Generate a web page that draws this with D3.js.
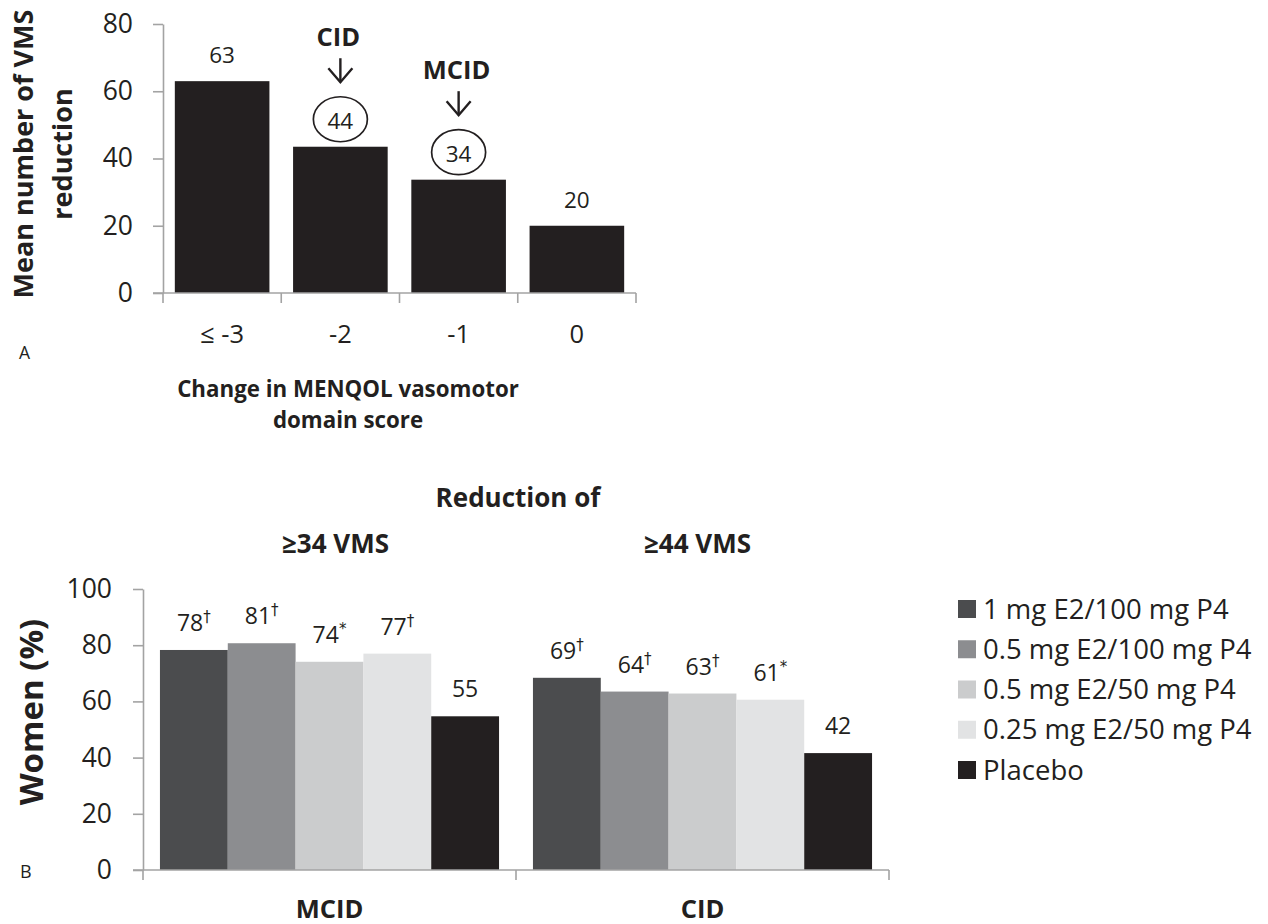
<!DOCTYPE html>
<html>
<head>
<meta charset="utf-8">
<script src="https://cdn.jsdelivr.net/npm/d3@7"></script>
<style>
  html, body { margin: 0; padding: 0; background: #fff; }
  svg { display: block; }
  text { font-family: "Open Sans", sans-serif; fill: #231f20; }
</style>
</head>
<body>
<svg id="chart" width="1268" height="924"></svg>
<script>
// ---------- Data: panel A ----------
const catsA = ["≤ -3", "-2", "-1", "0"];
const valuesA = [63, 43.5, 33.7, 20];
const labelsA = ["63", "44", "34", "20"];
const circledA = ["-2", "-1"];
const calloutTextA = ["CID", "MCID"];
const yTicksA = [0, 20, 40, 60, 80];
const titleA = ["Change in MENQOL vasomotor", "domain score"];
const yTitleA = ["Mean number of VMS", "reduction"];

// ---------- Data: panel B ----------
const groupsB = ["MCID", "CID"];
const groupHeadsB = ["≥34 VMS", "≥44 VMS"];
const seriesB = ["1 mg E2/100 mg P4", "0.5 mg E2/100 mg P4", "0.5 mg E2/50 mg P4", "0.25 mg E2/50 mg P4", "Placebo"];
const valuesMCID = [78.3, 80.7, 74.1, 77.0, 54.7];
const valuesCID = [68.4, 63.5, 62.8, 60.6, 41.6];
const labelsMCID = ["78", "81", "74", "77", "55"];
const labelsCID = ["69", "64", "63", "61", "42"];
const marksMCID = ["†", "†", "*", "†", ""];
const marksCID = ["†", "†", "†", "*", ""];
const yTicksB = [0, 20, 40, 60, 80, 100];
const titleB = "Reduction of";
const yTitleB = "Women (%)";

// ---------- Styles ----------
const palette = ["#4b4c4e", "#8c8d90", "#cbcccd", "#e2e3e4", "#231f20"];
const barA = "#231f20";
const axisCol = "#a3a3a3";
const ink = "#231f20";

const svg = d3.select("#chart");

// ================= Panel A =================
const xA = d3.scaleBand().domain(catsA).range([163, 636]).paddingInner(0.2).paddingOuter(0.1);
const yA = d3.scaleLinear().domain([0, 80]).range([293, 24]);
const gA = svg.append("g");

gA.selectAll("rect.barA").data(catsA).join("rect")
  .attr("class", "barA")
  .attr("x", d => xA(d))
  .attr("width", xA.bandwidth())
  .attr("y", (d, i) => yA(valuesA[i]))
  .attr("height", (d, i) => yA(0) - yA(valuesA[i]))
  .attr("fill", barA);

// y axis
const yAxA = gA.append("g").attr("transform", "translate(163,0)")
  .call(d3.axisLeft(yA).tickValues(yTicksA).tickSize(10).tickSizeOuter(0).tickPadding(20));
yAxA.select(".domain").attr("stroke", axisCol).attr("stroke-width", 1.6);
yAxA.selectAll(".tick line").attr("stroke", axisCol).attr("stroke-width", 1.6);
yAxA.selectAll(".tick text").attr("font-size", 26.5).attr("font-family", "Open Sans").attr("fill", ink);

// x axis
const bandsA = d3.range(catsA.length + 1).map(i => xA.range()[0] + i * xA.step());
gA.append("line").attr("x1", 153).attr("x2", xA.range()[1]).attr("y1", yA(0)).attr("y2", yA(0))
  .attr("stroke", axisCol).attr("stroke-width", 1.6);
gA.selectAll("line.bA").data(bandsA).join("line").attr("class", "bA")
  .attr("x1", d => d).attr("x2", d => d).attr("y1", yA(0)).attr("y2", yA(0) + 10)
  .attr("stroke", axisCol).attr("stroke-width", 1.6);
gA.selectAll("text.catA").data(catsA).join("text").attr("class", "catA")
  .attr("x", d => xA(d) + xA.bandwidth() / 2).attr("y", yA(0) + 50)
  .attr("text-anchor", "middle").attr("font-size", 25.5).text(d => d);

// value labels
gA.selectAll("text.valA").data(catsA).join("text").attr("class", "valA")
  .attr("x", d => xA(d) + xA.bandwidth() / 2)
  .attr("y", (d, i) => yA(valuesA[i]) - 18)
  .attr("text-anchor", "middle").attr("font-size", 22.5).text((d, i) => labelsA[i]);

// circled labels with callouts
circledA.forEach((c, k) => {
  const i = catsA.indexOf(c);
  const cx = xA(c) + xA.bandwidth() / 2;
  const cy = yA(valuesA[i]) - 27.5;
  gA.append("ellipse").attr("cx", cx).attr("cy", cy).attr("rx", 27).attr("ry", 22.5)
    .attr("fill", "none").attr("stroke", ink).attr("stroke-width", 1.7);
  const top = cy - 61, bot = cy - 37;
  gA.append("line").attr("x1", cx).attr("x2", cx).attr("y1", top).attr("y2", bot)
    .attr("stroke", ink).attr("stroke-width", 2.4);
  gA.append("path").attr("d", `M${cx - 12},${bot - 14} L${cx},${bot} L${cx + 12},${bot - 14}`)
    .attr("fill", "none").attr("stroke", ink).attr("stroke-width", 2.4);
  gA.append("text").attr("x", cx - 2).attr("y", cy - 73).attr("text-anchor", "middle")
    .attr("font-size", 25.5).attr("font-weight", 700).text(calloutTextA[k]);
});

// y title A
const yTA = gA.append("text").attr("transform", "translate(33,154) rotate(-90)")
  .attr("text-anchor", "middle").attr("font-size", 27).attr("font-weight", 700);
yTA.append("tspan").attr("x", 0).attr("y", 0).text(yTitleA[0]);
yTA.append("tspan").attr("x", 0).attr("y", 39).text(yTitleA[1]);

// panel letter A
svg.append("text").attr("x", 19).attr("y", 359).attr("font-family", "Liberation Sans, Arial, sans-serif")
  .attr("font-size", 17.5).text("A");

// title A
gA.selectAll("text.tA").data(titleA).join("text").attr("class", "tA")
  .attr("x", 348).attr("y", (d, i) => 397 + i * 31)
  .attr("text-anchor", "middle").attr("font-size", 22.3).attr("font-weight", 700).text(d => d);

// ================= Panel B =================
const x0 = d3.scaleBand().domain(groupsB).range([143, 889]);
const x1 = d3.scaleBand().domain(seriesB).range([0, x0.bandwidth()]).paddingInner(0).paddingOuter(0.25);
const yB = d3.scaleLinear().domain([0, 100]).range([870, 589]);
const gB = svg.append("g");

const rowsB = [
  { g: groupsB[0], vals: valuesMCID, labs: labelsMCID, marks: marksMCID },
  { g: groupsB[1], vals: valuesCID, labs: labelsCID, marks: marksCID }
];

rowsB.forEach(r => {
  const grp = gB.append("g").attr("transform", `translate(${x0(r.g)},0)`);
  grp.selectAll("rect").data(seriesB).join("rect")
    .attr("x", d => x1(d)).attr("width", x1.bandwidth())
    .attr("y", (d, i) => yB(r.vals[i]))
    .attr("height", (d, i) => yB(0) - yB(r.vals[i]))
    .attr("fill", (d, i) => palette[i]);
  const t = grp.selectAll("text.valB").data(seriesB).join("text").attr("class", "valB")
    .attr("x", d => x1(d) + x1.bandwidth() / 2)
    .attr("y", (d, i) => yB(r.vals[i]) - 19)
    .attr("text-anchor", "middle").attr("font-size", 23);
  t.append("tspan").text((d, i) => r.labs[i]);
  t.append("tspan").attr("font-size", 15).attr("dy", -9)
    .attr("font-family", "DejaVu Sans, sans-serif").style("fill", ink).text((d, i) => r.marks[i]);
});

// y axis B
const yAxB = gB.append("g").attr("transform", "translate(143,0)")
  .call(d3.axisLeft(yB).tickValues(yTicksB).tickSize(10).tickSizeOuter(0).tickPadding(21));
yAxB.select(".domain").attr("stroke", axisCol).attr("stroke-width", 1.6);
yAxB.selectAll(".tick line").attr("stroke", axisCol).attr("stroke-width", 1.6);
yAxB.selectAll(".tick text").attr("font-size", 26.5).attr("font-family", "Open Sans").attr("fill", ink);

// x axis B
const bandsB = d3.range(groupsB.length + 1).map(i => x0.range()[0] + i * x0.step());
gB.append("line").attr("x1", 133).attr("x2", x0.range()[1]).attr("y1", yB(0)).attr("y2", yB(0))
  .attr("stroke", axisCol).attr("stroke-width", 1.6);
gB.selectAll("line.bB").data(bandsB).join("line").attr("class", "bB")
  .attr("x1", d => d).attr("x2", d => d).attr("y1", yB(0)).attr("y2", yB(0) + 10)
  .attr("stroke", axisCol).attr("stroke-width", 1.6);
gB.selectAll("text.catB").data(groupsB).join("text").attr("class", "catB")
  .attr("x", d => x0(d) + x0.bandwidth() / 2).attr("y", 918)
  .attr("text-anchor", "middle").attr("font-size", 25.5).attr("font-weight", 700).text(d => d);

// group headers
gB.selectAll("text.hB").data(groupHeadsB).join("text").attr("class", "hB")
  .attr("x", (d, i) => x0(groupsB[i]) + x0.bandwidth() / 2 + (i === 0 ? 6 : -5)).attr("y", 553)
  .attr("text-anchor", "middle").attr("font-size", 26).attr("font-weight", 700).text(d => d);

// title B
gB.append("text").attr("x", (x0.range()[0] + x0.range()[1]) / 2 + 2).attr("y", 507)
  .attr("text-anchor", "middle").attr("font-size", 26).attr("font-weight", 700).text(titleB);

// y title B
gB.append("text").attr("transform", "translate(43,712) rotate(-90)")
  .attr("text-anchor", "middle").attr("font-size", 33).attr("font-weight", 700).text(yTitleB);

// panel letter B
svg.append("text").attr("x", 20).attr("y", 878).attr("font-family", "Liberation Sans, Arial, sans-serif")
  .attr("font-size", 18).text("B");

// legend
const leg = gB.append("g").attr("transform", "translate(958,600)");
const li = leg.selectAll("g").data(seriesB).join("g").attr("transform", (d, i) => `translate(0,${i * 40.25})`);
li.append("rect").attr("width", 18).attr("height", 18).attr("fill", (d, i) => palette[i]);
li.append("text").attr("x", 25).attr("y", 18.5).attr("font-size", 27.5).text(d => d);
</script>
</body>
</html>
